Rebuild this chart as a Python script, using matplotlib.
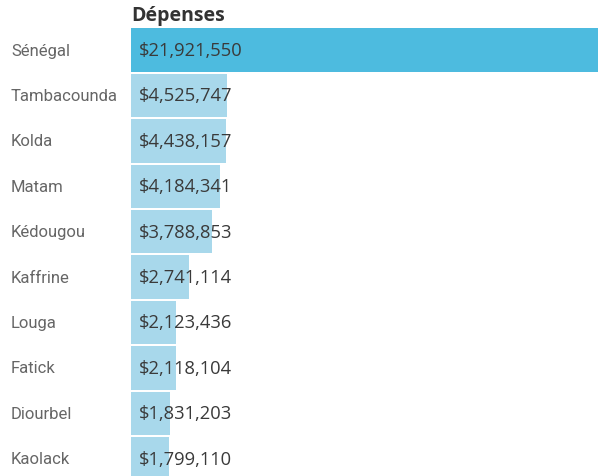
import matplotlib.pyplot as plt

regions = ['Sénégal', 'Tambacounda', 'Kolda', 'Matam', 'Kédougou',
           'Kaffrine', 'Louga', 'Fatick', 'Diourbel', 'Kaolack']
depenses = [21921550, 4525747, 4438157, 4184341, 3788853,
            2741114, 2123436, 2118104, 1831203, 1799110]

plt.rcParams['font.family'] = ['Open Sans', 'DejaVu Sans']

W, H = 598, 477
pitch = 45.4
top = 29.3 - (pitch - 43.5) / 2
fig = plt.figure(figsize=(W / 100, H / 100), dpi=100)
ax = fig.add_axes([131 / W, 1 - (top + 10 * pitch) / H, 1 - 131 / W, 10 * pitch / H])

pos = list(range(len(regions)))
colors = ['#4dbbdf'] + ['#a8d8eb'] * (len(regions) - 1)
ax.barh(pos, depenses, height=43.5 / pitch, color=colors)
ax.set_ylim(len(regions) - 0.5, -0.5)
ax.set_xlim(0, max(depenses))
ax.axis('off')

for p, v, name in zip(pos, depenses, regions):
    ax.text(0.017 * max(depenses), p, f'${v:,}', va='center', ha='left',
            fontsize=13.2, family=['Open Sans', 'DejaVu Sans'], color='#3a3a3a')
    ax.text(-120 / 467 * max(depenses), p, name, va='center', ha='left',
            fontsize=12, family=['Roboto', 'DejaVu Sans'],
            color='#666666', clip_on=False)

fig.text(131 / W, 1 - 16 / H, 'Dépenses', va='center', ha='left',
         fontsize=14, fontweight='bold', color='#333333')

fig.savefig('out.png')
